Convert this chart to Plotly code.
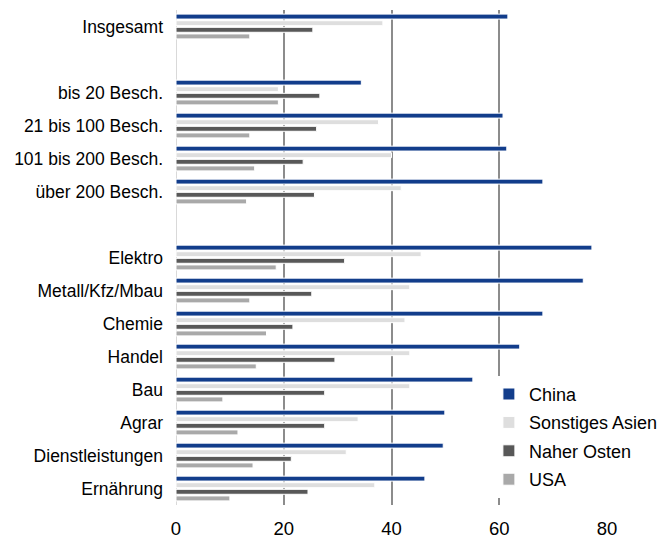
import plotly.graph_objects as go

categories = ["Insgesamt", " ", "bis 20 Besch.", "21 bis 100 Besch.", "101 bis 200 Besch.",
              "über 200 Besch.", "  ", "Elektro", "Metall/Kfz/Mbau", "Chemie", "Handel",
              "Bau", "Agrar", "Dienstleistungen", "Ernährung"]

china = [61.6, None, 34.4, 60.7, 61.4, 68.1, None, 77.2, 75.6, 68.1, 63.8, 55.1, 49.9, 49.6, 46.2]
sonstiges_asien = [38.4, None, 19.0, 37.6, 40.0, 41.8, None, 45.5, 43.4, 42.5, 43.4, 43.4, 33.8, 31.6, 36.9]
naher_osten = [25.4, None, 26.7, 26.1, 23.6, 25.7, None, 31.3, 25.2, 21.7, 29.5, 27.6, 27.6, 21.4, 24.5]
usa = [13.7, None, 19.0, 13.7, 14.6, 13.1, None, 18.6, 13.7, 16.8, 14.9, 8.7, 11.5, 14.3, 10.0]

series = [
    ("China", china, "#123D8B"),
    ("Sonstiges Asien", sonstiges_asien, "#DEDEDE"),
    ("Naher Osten", naher_osten, "#585858"),
    ("USA", usa, "#A9A9A9"),
]

x_ticks = [0, 20, 40, 60, 80]

fig = go.Figure()
for name, vals, col in series:
    fig.add_trace(go.Bar(
        y=categories, x=vals, name=name, orientation="h",
        marker=dict(color=col, line=dict(color="white", width=1)),
        legendgroup=name,
    ))

FONT = "Liberation Sans, Arial, sans-serif"
fig.update_layout(
    width=664, height=530,
    margin=dict(l=168, r=65, t=2, b=33),
    paper_bgcolor="white", plot_bgcolor="white",
    barmode="group", bargap=0.2, bargroupgap=0.25,
    font=dict(family=FONT, size=17.5, color="#000000"),
    showlegend=True,
    legend=dict(
        x=0.726, y=0.261, xanchor="left", yanchor="top",
        bgcolor="white", borderwidth=0,
        font=dict(family=FONT, size=18, color="#000000"),
        traceorder="grouped", tracegroupgap=2, itemwidth=30,
    ),
    xaxis=dict(
        range=[0, 80], tickvals=x_ticks, ticktext=[str(v) for v in x_ticks],
        showgrid=True, gridcolor="#8C8C8C", gridwidth=2,
        zeroline=True, zerolinecolor="#D9D9D9", zerolinewidth=1,
        showline=False, ticks="", ticklabelstandoff=10, automargin=False,
        tickfont=dict(family=FONT, size=18.5),
    ),
    yaxis=dict(
        categoryorder="array", categoryarray=categories,
        autorange="reversed", showgrid=False, zeroline=False,
        showline=False, ticks="", ticklabelstandoff=12, automargin=False,
        tickfont=dict(family=FONT, size=17.5),
    ),
)

fig.write_html("out.html")
